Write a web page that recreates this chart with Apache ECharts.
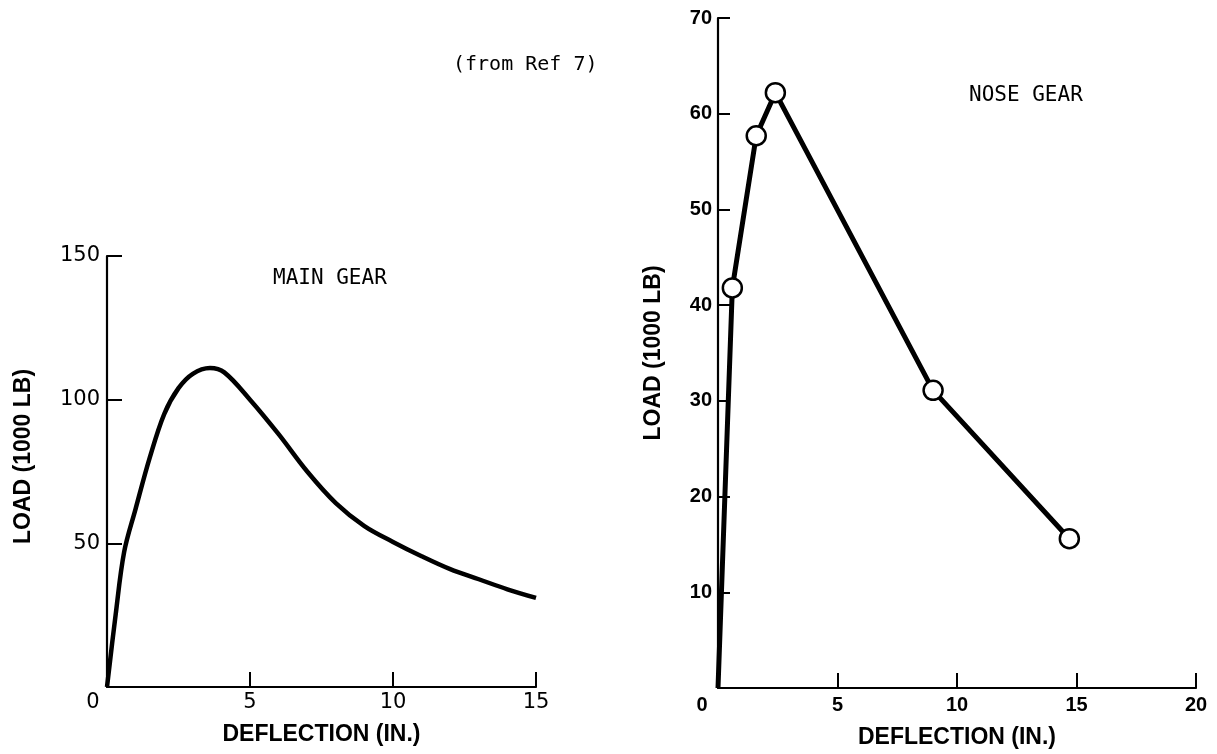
<!DOCTYPE html>
<html>
<head>
<meta charset="utf-8">
<script src="https://cdn.jsdelivr.net/npm/echarts@6/dist/echarts.min.js"></script>
<style>
html,body{margin:0;padding:0;background:#fff;}
#c{width:1217px;height:754px;}
</style>
</head>
<body>
<div id="c"></div>
<script>
// ---- data ----
const mainDeflection = [0, 0.3, 0.6, 1.0, 1.5, 2.0, 2.5, 3.0, 3.6, 4.1, 5.0, 6.0, 7.0, 8.0, 9.0, 10.0, 11.0, 12.0, 13.0, 14.0, 15.0];
const mainLoad       = [0, 25, 47, 62, 80, 95, 104, 109, 111, 109.5, 100, 88, 75, 64, 56, 50.5, 45.5, 41, 37.5, 34, 31];
const noseDeflection = [0, 0.6, 1.6, 2.4, 9.0, 14.7];
const noseLoad       = [0, 41.8, 57.7, 62.2, 31.1, 15.6];
const mainXTicks = [0, 5, 10, 15];
const mainYTicks = [50, 100, 150];
const noseXTicks = [0, 5, 10, 15, 20];
const noseYTicks = [10, 20, 30, 40, 50, 60, 70];
const labels = {
  mainTitle: 'MAIN GEAR',
  noseTitle: 'NOSE GEAR',
  source: '(from Ref 7)',
  xName: 'DEFLECTION (IN.)',
  yName: 'LOAD (1000 LB)'
};

const chart = echarts.init(document.getElementById('c'), null, {renderer: 'canvas'});
const black = '#000';
const monoFont = '"DejaVu Sans Mono", "Liberation Mono", monospace';
const sansFont = '"Liberation Sans", "DejaVu Sans", sans-serif';
const plainFont = '"DejaVu Sans", sans-serif';

function axisCommon(extra) {
  return Object.assign({
    axisLine: {show: true, onZero: false, lineStyle: {color: black, width: 2.2}},
    axisTick: {show: true, inside: true, length: 15, lineStyle: {color: black, width: 2}},
    splitLine: {show: false}
  }, extra);
}

const mainData = mainDeflection.map((d, i) => [d, mainLoad[i]]);
const noseData = noseDeflection.map((d, i) => i === 0
  ? {value: [d, noseLoad[i]], symbol: 'none'}
  : {value: [d, noseLoad[i]]});

const nameStyle = {fontFamily: sansFont, fontWeight: 'bold', fontSize: 23, color: black};

const option = {
  backgroundColor: '#fff',
  animation: false,
  title: [
    {text: labels.mainTitle, left: 268, top: 263, textStyle: {fontFamily: monoFont, fontSize: 21, fontWeight: 'normal', color: black}},
    {text: labels.noseTitle, left: 964, top: 80, textStyle: {fontFamily: monoFont, fontSize: 21, fontWeight: 'normal', color: black}},
    {text: labels.source, left: 448, top: 50, textStyle: {fontFamily: monoFont, fontSize: 20, fontWeight: 'normal', color: black}}
  ],
  grid: [
    {left: 107, top: 256, width: 429, height: 431, containLabel: false},
    {left: 718, top: 18, width: 478, height: 672, containLabel: false}
  ],
  xAxis: [
    axisCommon({
      gridIndex: 0, type: 'value', min: mainXTicks[0], max: mainXTicks[mainXTicks.length - 1], interval: 5,
      name: labels.xName, nameLocation: 'middle', nameGap: 36,
      nameTextStyle: nameStyle,
      axisLabel: {
        margin: 5, color: black, fontFamily: plainFont, fontSize: 21,
        formatter: v => v === 0 ? '{z|0}' : String(v),
        rich: {z: {padding: [0, 28, 0, 0], fontFamily: plainFont, fontSize: 21, color: black}}
      }
    }),
    axisCommon({
      gridIndex: 1, type: 'value', min: noseXTicks[0], max: noseXTicks[noseXTicks.length - 1], interval: 5,
      name: labels.xName, nameLocation: 'middle', nameGap: 38,
      nameTextStyle: nameStyle,
      axisLabel: {
        margin: 7, color: black, fontFamily: sansFont, fontWeight: 'bold', fontSize: 20,
        formatter: v => v === 0 ? '{z|0}' : String(v),
        rich: {z: {padding: [0, 32, 0, 0], fontFamily: sansFont, fontWeight: 'bold', fontSize: 20, color: black}}
      }
    })
  ],
  yAxis: [
    axisCommon({
      gridIndex: 0, type: 'value', min: 0, max: mainYTicks[mainYTicks.length - 1], interval: 50,
      name: labels.yName, nameLocation: 'middle', nameGap: 72, nameRotate: 90,
      nameTextStyle: Object.assign({}, nameStyle, {padding: [0, 0, 0, 30]}),
      axisLabel: {showMinLabel: false, margin: 7, color: black, fontFamily: plainFont, fontSize: 21},
      axisTick: {show: true, inside: true, length: 15, lineStyle: {color: black, width: 2}}
    }),
    axisCommon({
      gridIndex: 1, type: 'value', min: 0, max: noseYTicks[noseYTicks.length - 1], interval: 10,
      name: labels.yName, nameLocation: 'middle', nameGap: 53, nameRotate: 90,
      nameTextStyle: nameStyle,
      axisLabel: {showMinLabel: false, margin: 6, color: black, fontFamily: sansFont, fontWeight: 'bold', fontSize: 20},
      axisTick: {show: true, inside: true, length: 12, lineStyle: {color: black, width: 2}}
    })
  ],
  series: [
    {
      type: 'line', xAxisIndex: 0, yAxisIndex: 0, data: mainData, smooth: 0.35,
      showSymbol: false, symbol: 'none',
      lineStyle: {color: black, width: 4.5}
    },
    {
      type: 'line', xAxisIndex: 1, yAxisIndex: 1, data: noseData, smooth: false,
      symbol: 'circle', symbolSize: 19, showSymbol: true,
      itemStyle: {color: '#fff', borderColor: black, borderWidth: 2.5},
      lineStyle: {color: black, width: 5}, z: 3
    }
  ]
};
chart.setOption(option);
</script>
</body>
</html>
